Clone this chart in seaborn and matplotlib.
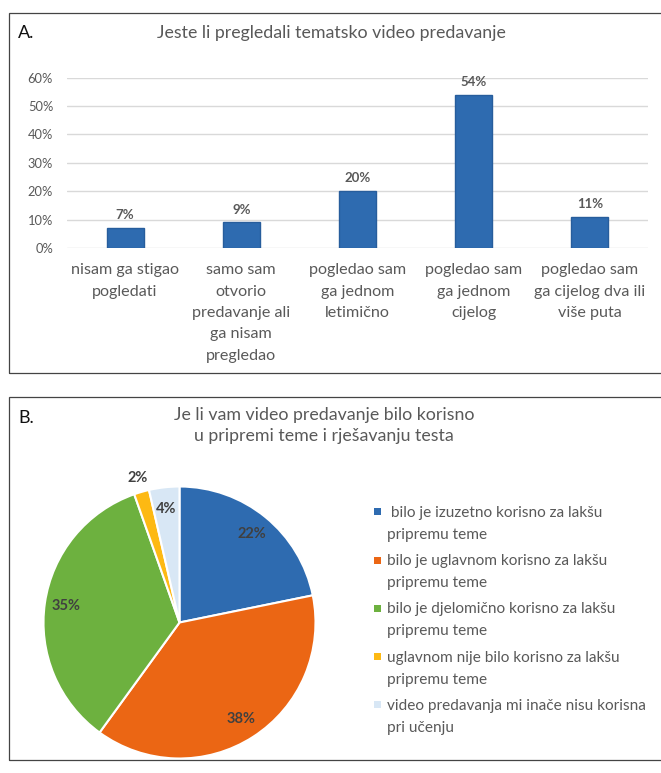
import numpy as np
import matplotlib
matplotlib.use("Agg")
import matplotlib.pyplot as plt
import seaborn as sns
from matplotlib.patches import Rectangle
from matplotlib.font_manager import FontProperties
from matplotlib.ticker import PercentFormatter

# ------------------------------------------------------------
# Data
# ------------------------------------------------------------
title_a = "Jeste li pregledali tematsko video predavanje"
bar_categories = [
    "nisam ga stigao\npogledati",
    "samo sam\notvorio\npredavanje ali\nga nisam\npregledao",
    "pogledao sam\nga jednom\nletimično",
    "pogledao sam\nga jednom\ncijelog",
    "pogledao sam\nga cijelog dva ili\nviše puta",
]
bar_values = [0.07, 0.09, 0.20, 0.54, 0.11]
y_ticks = [0.0, 0.1, 0.2, 0.3, 0.4, 0.5, 0.6]

title_b = "Je li vam video predavanje bilo korisno\nu pripremi teme i rješavanju testa"
pie_labels = [
    " bilo je izuzetno korisno za lakšu\npripremu teme",
    "bilo je uglavnom korisno za lakšu\npripremu teme",
    "bilo je djelomično korisno za lakšu\npripremu teme",
    "uglavnom nije bilo korisno za lakšu\npripremu teme",
    "video predavanja mi inače nisu korisna\npri učenju",
]
pie_shares = [21.8, 38.2, 34.6, 1.8, 3.6]
pie_colors = ["#2E6BB0", "#EB6614", "#6DB13F", "#FDB913", "#D8E7F5"]

BAR_BLUE = "#2E6BB0"
BAR_EDGE = "#275D9C"
GREY = "#595959"
DARK = "#404040"

W, H = 661, 773


def fx(x):
    return x / W


def fy(y):
    return 1 - y / H


def line_spacing(fig, size, pitch_px, weight="normal"):
    # linespacing factor for a wanted line pitch (0.885 tuned by eye)
    r = fig.canvas.get_renderer()
    fp = FontProperties(family="Lato", size=size, weight=weight)
    _, h, d = r.get_text_width_height_descent("lp", fp, ismath=False)
    return 0.885 * pitch_px / (h - d)


sns.set_theme(style="white")
plt.rcParams["font.family"] = ["Lato", "DejaVu Sans"]

fig = plt.figure(figsize=(W / 100, H / 100), dpi=100)

# panel frames
for top, bottom in [(12.7, 373), (397.3, 760)]:
    fig.add_artist(Rectangle((fx(9.3), fy(bottom)), fx(700), (bottom - top) / H,
                             transform=fig.transFigure, fill=False,
                             edgecolor="#444444", linewidth=0.9))

# ------------------------------------------------------------
# A: bar chart
# ------------------------------------------------------------
ax = fig.add_axes([fx(67), fy(248), fx(648) - fx(67), (248 - 77.7) / H])
sns.barplot(x=bar_categories, y=bar_values, color=BAR_BLUE, saturation=1,
            width=0.32, edgecolor=BAR_EDGE, linewidth=1, ax=ax)
ax.set_ylim(0, 0.6)
ax.set_xlim(-0.5, len(bar_categories) - 0.5)
ax.set_yticks(y_ticks)
ax.yaxis.set_major_formatter(PercentFormatter(1.0, decimals=0))
ax.yaxis.grid(True, color="#D9D9D9", linewidth=1)
ax.set_axisbelow(True)
sns.despine(ax=ax, left=True, bottom=True)
ax.tick_params(axis="y", length=0, pad=10, labelsize=9.3, labelcolor=GREY)
ax.tick_params(axis="x", length=0, pad=11, labelsize=11.6, labelcolor=GREY)
ax.set_xlabel("")
ax.set_ylabel("")
ls_cat = line_spacing(fig, 11.6, 20.7)
for t in ax.get_xticklabels():
    t.set_linespacing(ls_cat)
ax.bar_label(ax.containers[0], labels=[f"{v:.0%}" for v in bar_values],
             padding=5, fontsize=9.5, fontweight="bold", color=GREY)

fig.text(fx(18), fy(33), "A.", fontsize=13, color="#111111",
         ha="left", va="center")
fig.text(fx(331), fy(33), title_a, fontsize=12.8, color=GREY,
         ha="center", va="center")

# ------------------------------------------------------------
# B: pie chart
# ------------------------------------------------------------
cx, cy, rad = 179.5, 622.5, 136
axp = fig.add_axes([fx(cx - rad), fy(cy + rad), 2 * rad / W, 2 * rad / H])
wedges, _ = axp.pie(pie_shares, colors=pie_colors, startangle=90,
                    counterclock=False,
                    wedgeprops=dict(edgecolor="white", linewidth=1.5))
axp.set_xlim(-1, 1)
axp.set_ylim(-1, 1)
for w, s in zip(wedges, pie_shares):
    ang = np.deg2rad((w.theta1 + w.theta2) / 2)
    r = 1.11 if s < 3 else 0.84
    axp.text(r * np.cos(ang), r * np.sin(ang), f"{s:.0f}%", ha="center",
             va="center", fontsize=10.5, fontweight="bold", color=DARK)

fig.text(fx(18), fy(418), "B.", fontsize=13, color="#111111",
         ha="left", va="center")
ls_title = line_spacing(fig, 12.8, 21)
fig.text(fx(324), fy(425.5), title_b, fontsize=12.8, color=GREY,
         ha="center", va="center", linespacing=ls_title)

# legend drawn next to the pie
ls_leg = line_spacing(fig, 11.1, 21.5)
for i, (lab, col) in enumerate(zip(pie_labels, pie_colors)):
    y1 = 511.7 + 48.3 * i
    fig.add_artist(Rectangle((fx(373.5), fy(y1 + 3.5)), 7 / W, 7 / H,
                             transform=fig.transFigure, color=col, lw=0))
    fig.text(fx(387), fy(y1 - 6), lab, fontsize=11.1, color=GREY, ha="left",
             va="top", linespacing=ls_leg)

fig.savefig("out.png", dpi=100)
